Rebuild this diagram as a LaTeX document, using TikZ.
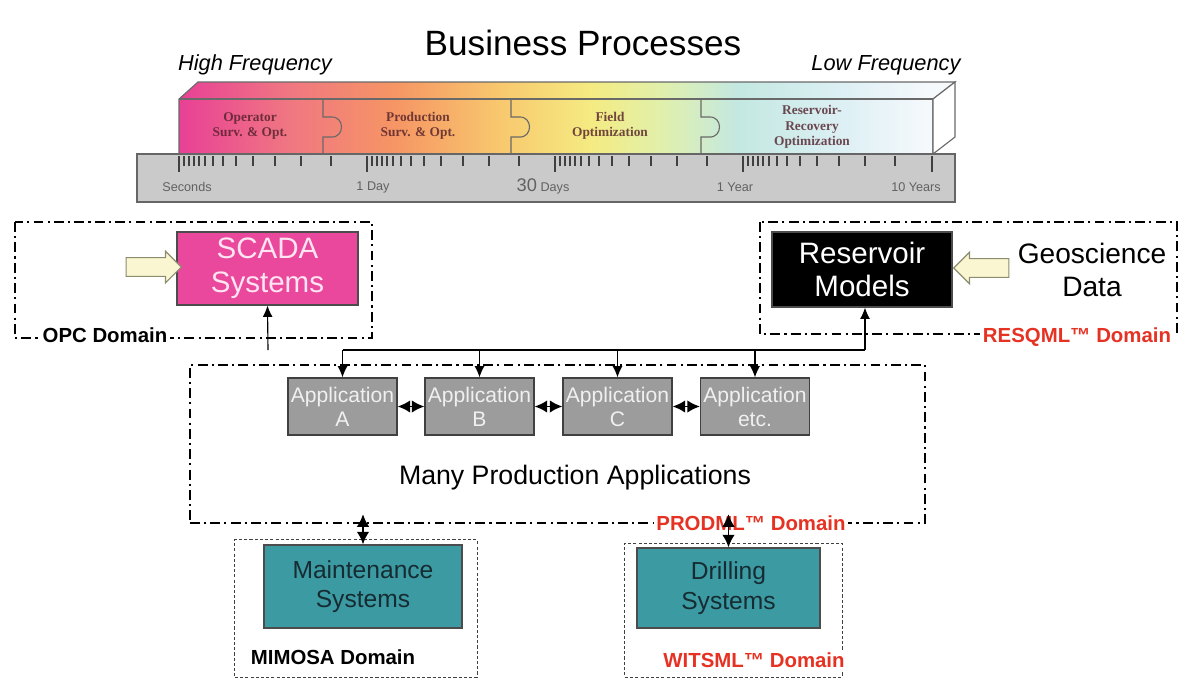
\documentclass[tikz,border=0pt]{standalone}
\usepackage{fontspec}
\setmainfont{Liberation Sans}
\newfontfamily\barfont{Liberation Serif}
\usetikzlibrary{shapes.arrows,arrows.meta}
\definecolor{scadapink}{RGB}{234,72,156}
\definecolor{scadatext}{RGB}{255,228,242}
\definecolor{systeal}{RGB}{60,154,162}
\definecolor{tealtext}{RGB}{22,44,50}
\definecolor{appgray}{RGB}{156,156,156}
\definecolor{rulergray}{RGB}{202,202,202}
\definecolor{feedfill}{RGB}{250,246,210}
\definecolor{feedline}{RGB}{140,140,110}
\definecolor{domred}{RGB}{230,50,35}
\definecolor{barline}{RGB}{105,105,105}
\definecolor{bartext}{RGB}{80,30,40}
\definecolor{bpA}{RGB}{232,64,150}
\definecolor{bpB}{RGB}{240,118,130}
\definecolor{bpC}{RGB}{246,150,100}
\definecolor{bpD}{RGB}{248,200,110}
\definecolor{bpE}{RGB}{245,235,130}
\definecolor{bpF}{RGB}{225,240,170}
\definecolor{bpG}{RGB}{195,232,225}
\definecolor{bpH}{RGB}{222,240,245}
\definecolor{bpI}{RGB}{246,249,252}
\pgfdeclarehorizontalshading{bpgrad}{100bp}{color(0bp)=(bpA); color(25bp)=(bpA); color(32bp)=(bpB); color(39bp)=(bpC); color(45.7bp)=(bpD); color(51.5bp)=(bpE); color(56bp)=(bpF); color(61bp)=(bpG); color(68bp)=(bpH); color(73.4bp)=(bpI); color(100bp)=(bpI)}
\begin{document}
\begin{tikzpicture}[x=0.025cm,y=-0.025cm]
\tikzstyle{every node}+=[inner sep=0pt]
\tikzstyle{domainbox}=[line width=1.4pt, dash pattern=on 7pt off 3pt on 1.5pt off 3pt]
\tikzstyle{subdomain}=[draw=black!75, line width=0.7pt, dash pattern=on 2.2pt off 1.5pt]
\tikzstyle{sysbox}=[draw=black!70, line width=0.8pt, align=center, font=\fontsize{21}{24}\selectfont]
\tikzstyle{appbox}=[draw=black!75, line width=0.8pt, fill=appgray, text=black!6, minimum width=2.725cm, minimum height=1.425cm, align=center, font=\fontsize{15}{17}\selectfont]
\tikzstyle{domlabel}=[fill=white, inner sep=2pt, font=\bfseries\fontsize{14.5}{16}\selectfont]
\tikzstyle{barlabel}=[align=center, text=bartext, text opacity=0.8, font=\barfont\bfseries\fontsize{9.5}{11}\selectfont]
\tikzstyle{rulerlabel}=[text=black!62, font=\fontsize{9}{10}\selectfont]
\tikzstyle{tick}=[draw=black!75, line width=0.8pt]
\tikzstyle{feed}=[single arrow, draw=feedline, fill=feedfill, line width=0.8pt, minimum height=1.38cm, inner ysep=0.22cm, inner xsep=0pt, single arrow head extend=0.16cm, single arrow head indent=0pt]
\tikzstyle{link}=[-{Latex[length=8pt,width=7pt]}, line width=0.8pt]
\tikzstyle{dlink}=[{Latex[length=9pt,width=9pt]}-{Latex[length=9pt,width=9pt]}, line width=1.4pt]

\useasboundingbox (0,0) rectangle (1198,679);

\node[font=\fontsize{25}{28}\selectfont] (title) at (583,43) {Business Processes};
\node[font=\itshape\fontsize{15.5}{17}\selectfont] (highf) at (255,65) {High Frequency};
\node[font=\itshape\fontsize{15.5}{17}\selectfont] (lowf) at (886,65) {Low Frequency};

\shade[shading=bpgrad] (179,154) -- (179,99) -- (198,82) -- (955,82) -- (933,99) -- (933,154) -- cycle;
\draw[barline, line width=0.8pt] (179,154) -- (179,99) -- (198,82) -- (955,82) -- (933,99) -- (933,154);
\draw[barline, line width=0.8pt] (179,99) -- (933,99);
\filldraw[draw=barline, fill=white, line width=0.8pt] (933,99) -- (955,82) -- (955,137) -- (933,154) -- cycle;
\foreach \d in {323,511,701}
  \draw[barline, line width=0.8pt] (\d,99) -- (\d,117) -- (\d+8,117) .. controls (\d+22,116) and (\d+22,138) .. (\d+8,137) -- (\d,137) -- (\d,154);
\node[barlabel] (opsurv) at (250,126) {Operator\\Surv. \& Opt.};
\node[barlabel] (prodsurv) at (418,126) {Production\\Surv. \& Opt.};
\node[barlabel] (fieldopt) at (610,126) {Field\\Optimization};
\node[barlabel] (resopt) at (812,127) {Reservoir-\\Recovery\\Optimization};

\filldraw[fill=rulergray, draw=black!60, line width=0.8pt] (137,154) rectangle (955,202);
\foreach \s in {179,367,555,743}{
  \draw[tick] (\s,156) -- (\s,172);
  \foreach \f in {5,10,15,20,26,34,44,57,74,96,122,152}
    \draw[tick] (\s+\f,156) -- (\s+\f,166);
}
\draw[tick] (932,156) -- (932,172);
\node[rulerlabel] (secs) at (187,187) {Seconds};
\node[rulerlabel] (oneday) at (373,187) {1 Day};
\node[rulerlabel] (thirty) at (543,186) {{\fontsize{13}{14}\selectfont 30} Days};
\node[rulerlabel] (oneyear) at (735,187) {1 Year};
\node[rulerlabel] (tenyears) at (916,187) {10 Years};

\draw[domainbox] (15,222) rectangle (372,338);
\node[domlabel] (opc) at (105,335) {OPC Domain};
\node[sysbox, fill=scadapink, text=scadatext, minimum width=4.525cm, minimum height=1.825cm] (scada) at (267.5,268.5) {SCADA\\Systems};
\node[feed] (scadafeed) at (149,267) {};

\draw[domainbox] (760,222) rectangle (1177,334);
\node[domlabel, text=domred] (resqml) at (1077,337) {RESQML™ Domain};
\node[sysbox, fill=black, text=white, minimum width=4.5cm, minimum height=1.875cm] (resmod) at (862,269.5) {Reservoir\\Models};
\node[font=\fontsize{20}{24}\selectfont, align=center] (geodata) at (1092,270) {Geoscience\\Data};
\node[feed, shape border rotate=180] (geofeed) at (986,268) {};

\node[domainbox, draw, minimum width=18.375cm, minimum height=3.95cm] (prodml) at (557.5,444) {};
\node[domlabel, text=domred] (prodlabel) at (751,523) {PRODML™ Domain};
\node[font=\fontsize{19}{22}\selectfont] (manyapps) at (575,478) {Many Production Applications};
\node[appbox] (appa) at (342.5,406.5) {Application\\A};
\node[appbox] (appb) at (479.5,406.5) {Application\\B};
\node[appbox] (appc) at (617.5,406.5) {Application\\C};
\node[appbox] (appetc) at (755,406.5) {Application\\etc.};

\coordinate (busl) at (342.5,350);
\coordinate (busr) at (865,350);
\coordinate (scadaend) at (268,350);
\draw[line width=0.8pt] (busl) -- (busr);
\foreach \a in {appa,appb,appc,appetc}
  \draw[link] (\a.north |- busl) -- (\a.north);
\draw[link] (busr) -- (busr |- resmod.south);
\draw[link] (scadaend) -- (scada.south);
\draw[dlink] (appa) -- (appb);
\draw[dlink] (appb) -- (appc);
\draw[dlink] (appc) -- (appetc);

\node[subdomain, minimum width=6.05cm, minimum height=3.425cm] (mimosa) at (356,608.5) {};
\node[sysbox, fill=systeal, text=tealtext, minimum width=4.95cm, minimum height=2.075cm, font=\fontsize{17.5}{21}\selectfont] (maint) at (363,586.5) {Maintenance\\Systems};
\node[domlabel, fill=none] (mimosalabel) at (333,657) {MIMOSA Domain};

\node[subdomain, minimum width=5.425cm, minimum height=3.35cm] (witsml) at (733.5,610) {};
\node[sysbox, fill=systeal, text=tealtext, minimum width=4.575cm, minimum height=2cm, font=\fontsize{17.5}{21}\selectfont] (drill) at (728.5,588) {Drilling\\Systems};
\node[domlabel, text=domred] (witsmllabel) at (754,660) {WITSML™ Domain};

\draw[dlink, shorten <=-7pt] (maint.north |- prodml.south) -- (maint.north);
\draw[dlink, shorten <=-7pt] (drill.north |- prodml.south) -- (drill.north);
\end{tikzpicture}
\end{document}
